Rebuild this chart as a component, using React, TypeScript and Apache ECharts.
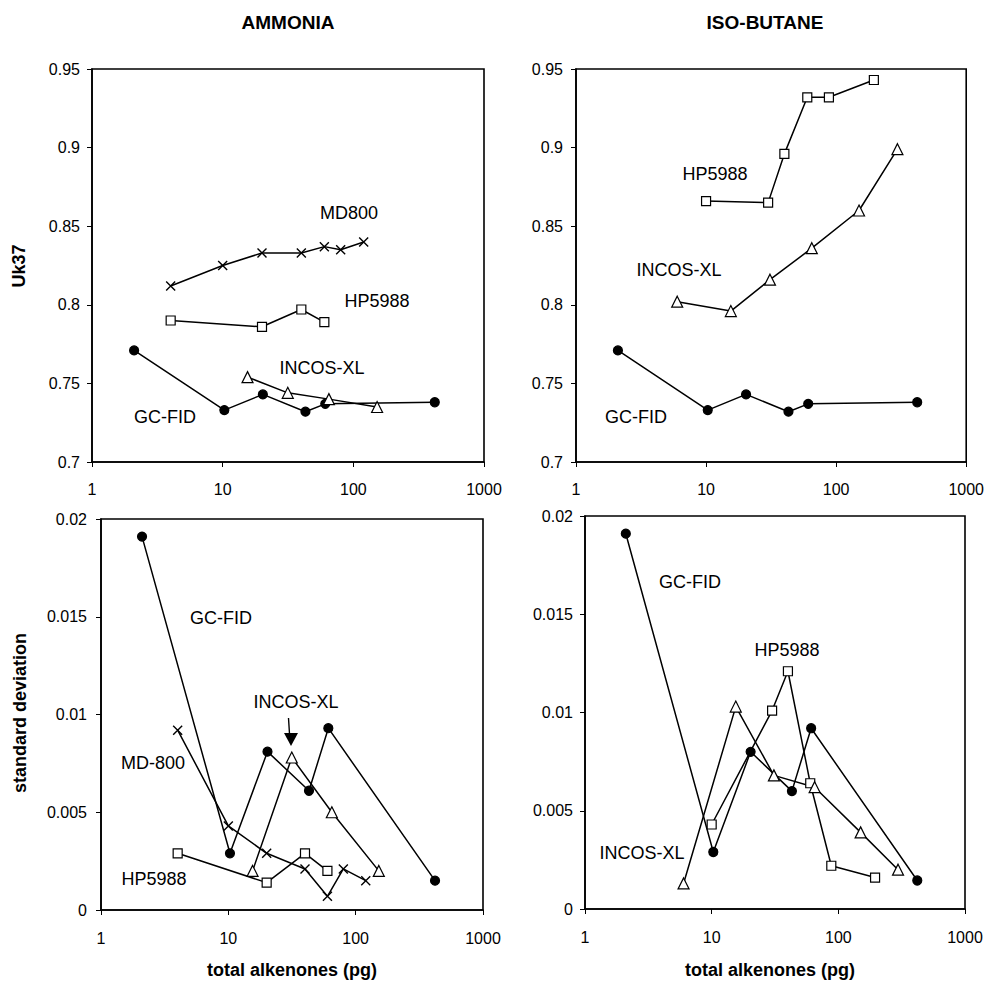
import React, { useEffect, useRef } from "react";
import * as echarts from "echarts";

// ---------- data ----------
const X_TICKS = [1, 10, 100, 1000];

// GC-FID (same instrument runs for both ionisation gases)
const GCFID_X = [2.1, 10.3, 20.3, 43, 61, 420];
const AMM_GCFID_UK = [0.771, 0.733, 0.743, 0.732, 0.737, 0.738];
const ISO_GCFID_UK = [0.771, 0.733, 0.743, 0.732, 0.737, 0.738];
const AMM_GCFID_SD = [0.0191, 0.0029, 0.0081, 0.0061, 0.0093, 0.0015];
const ISO_GCFID_SD = [0.0191, 0.0029, 0.008, 0.006, 0.0092, 0.00145];

// Ammonia
const AMM_MD_X = [4, 10, 20, 40, 60, 80, 120];
const AMM_MD_UK = [0.812, 0.825, 0.833, 0.833, 0.837, 0.835, 0.84];
const AMM_MD_SD = [0.0092, 0.0043, 0.0029, 0.0021, 0.0007, 0.0021, 0.0015];

const AMM_HP_X = [4, 20, 40, 60];
const AMM_HP_UK = [0.79, 0.786, 0.797, 0.789];
const AMM_HP_SD = [0.0029, 0.0014, 0.0029, 0.002];

const AMM_INCOS_X = [15.5, 31.5, 65, 152];
const AMM_INCOS_UK = [0.754, 0.744, 0.74, 0.735];
const AMM_INCOS_SD = [0.002, 0.0078, 0.005, 0.002];

// Iso-butane
const ISO_HP_X = [10, 30, 40, 60, 88, 195];
const ISO_HP_UK = [0.866, 0.865, 0.896, 0.932, 0.932, 0.943];
const ISO_HP_SD = [0.0043, 0.0101, 0.0121, 0.0064, 0.0022, 0.0016];

const ISO_INCOS_X = [6, 15.5, 31, 65, 150, 296];
const ISO_INCOS_UK = [0.802, 0.796, 0.816, 0.836, 0.86, 0.899];
const ISO_INCOS_SD = [0.0013, 0.0103, 0.0068, 0.0062, 0.0039, 0.002];

// ---------- styling ----------
const FONT = "'Liberation Sans', Arial, Helvetica, sans-serif";
const CROSS = "path://M0,0L10,10M10,0L0,10";

const pairs = (xs: number[], ys: number[]) => xs.map((x, i) => [x, ys[i]]);

type Kind = "dot" | "square" | "triangle" | "cross";

function mkSeries(name: string, grid: number, xs: number[], ys: number[], kind: Kind) {
  const symbol =
    kind === "dot" ? "circle" : kind === "square" ? "rect" : kind === "triangle" ? "triangle" : CROSS;
  const size = kind === "dot" ? 9 : kind === "square" ? 9 : kind === "triangle" ? 11 : 9;
  const fill = kind === "dot" ? "#000" : kind === "cross" ? "rgba(0,0,0,0)" : "#fff";
  return {
    name,
    type: "line",
    xAxisIndex: grid,
    yAxisIndex: grid,
    data: pairs(xs, ys),
    symbol,
    symbolSize: size,
    showAllSymbol: true,
    lineStyle: { color: "#000", width: 1.5 },
    itemStyle: { color: fill, borderColor: "#000", borderWidth: kind === "cross" ? 1.4 : 1.2 },
    emphasis: { disabled: true },
    z: 3,
  };
}

function txt(text: string, x: number, y: number, size: number, bold = false, rotation = 0) {
  return {
    type: "text",
    x,
    y,
    rotation,
    style: {
      text,
      x: 0,
      y: 0,
      fill: "#000",
      font: `${bold ? "bold " : ""}${size}px ${FONT}`,
      textAlign: "center",
      textVerticalAlign: "middle",
      align: "center",
      verticalAlign: "middle",
    },
    z: 10,
  };
}

export default function App() {
  const ref = useRef<HTMLDivElement>(null);

  useEffect(() => {
    if (!ref.current) return;
    const chart = echarts.init(ref.current, undefined, { renderer: "svg" });

    const grids = [
      { left: 92, top: 69, width: 392, height: 393 },
      { left: 576, top: 69, width: 391, height: 393 },
      { left: 101, top: 519, width: 382, height: 391 },
      { left: 585, top: 516, width: 380, height: 393 },
    ].map((g) => ({ ...g, show: true, borderColor: "#000", borderWidth: 1.6, backgroundColor: "#fff" }));

    const xAxes = [0, 1, 2, 3].map((i) => ({
      type: "log",
      logBase: 10,
      gridIndex: i,
      min: X_TICKS[0],
      max: X_TICKS[X_TICKS.length - 1],
      axisLine: { show: true, lineStyle: { color: "#000", width: 1.6 } },
      axisTick: { show: true, inside: false, length: 5, lineStyle: { color: "#000", width: 1 } },
      minorTick: { show: false },
      splitLine: { show: false },
      axisLabel: {
        color: "#000",
        fontSize: 16,
        fontFamily: FONT,
        margin: i < 2 ? 19 : 20,
        formatter: (v: number) => String(Math.round(v)),
      },
    }));

    const yAxes = [0, 1, 2, 3].map((i) => ({
      type: "value",
      gridIndex: i,
      min: i < 2 ? 0.7 : 0,
      max: i < 2 ? 0.95 : 0.02,
      interval: i < 2 ? 0.05 : 0.005,
      axisLine: { show: true, lineStyle: { color: "#000", width: 1.6 } },
      axisTick: { show: true, inside: false, length: 5, lineStyle: { color: "#000", width: 1 } },
      splitLine: { show: false },
      axisLabel: {
        color: "#000",
        fontSize: 16,
        fontFamily: FONT,
        margin: i === 0 ? 12 : i === 1 ? 13 : i === 2 ? 14 : 12,
      },
    }));

    const series = [
      // ammonia Uk37
      mkSeries("GC-FID", 0, GCFID_X, AMM_GCFID_UK, "dot"),
      mkSeries("MD800", 0, AMM_MD_X, AMM_MD_UK, "cross"),
      mkSeries("HP5988", 0, AMM_HP_X, AMM_HP_UK, "square"),
      mkSeries("INCOS-XL", 0, AMM_INCOS_X, AMM_INCOS_UK, "triangle"),
      // iso-butane Uk37
      mkSeries("GC-FID", 1, GCFID_X, ISO_GCFID_UK, "dot"),
      mkSeries("HP5988", 1, ISO_HP_X, ISO_HP_UK, "square"),
      mkSeries("INCOS-XL", 1, ISO_INCOS_X, ISO_INCOS_UK, "triangle"),
      // ammonia SD
      mkSeries("GC-FID", 2, GCFID_X, AMM_GCFID_SD, "dot"),
      mkSeries("MD-800", 2, AMM_MD_X, AMM_MD_SD, "cross"),
      mkSeries("HP5988", 2, AMM_HP_X, AMM_HP_SD, "square"),
      mkSeries("INCOS-XL", 2, AMM_INCOS_X, AMM_INCOS_SD, "triangle"),
      // iso-butane SD
      mkSeries("GC-FID", 3, GCFID_X, ISO_GCFID_SD, "dot"),
      mkSeries("HP5988", 3, ISO_HP_X, ISO_HP_SD, "square"),
      mkSeries("INCOS-XL", 3, ISO_INCOS_X, ISO_INCOS_SD, "triangle"),
    ];

    const graphic = [
      txt("AMMONIA", 288, 22, 19, true),
      txt("ISO-BUTANE", 765, 22, 19, true),
      txt("Uk37", 19, 266, 18, true, Math.PI / 2),
      txt("standard deviation", 20, 713, 18, true, Math.PI / 2),
      txt("total alkenones (pg)", 292, 970, 18, true),
      txt("total alkenones (pg)", 770, 970, 18, true),
      // panel annotations
      txt("MD800", 349, 213, 18),
      txt("HP5988", 377, 301, 18),
      txt("INCOS-XL", 322, 368, 18),
      txt("GC-FID", 165, 417, 18),
      txt("HP5988", 715, 174, 18),
      txt("INCOS-XL", 679, 270, 18),
      txt("GC-FID", 636, 417, 18),
      txt("GC-FID", 221, 618, 18),
      txt("INCOS-XL", 296, 702, 18),
      txt("MD-800", 153, 763, 18),
      txt("HP5988", 154, 879, 18),
      txt("GC-FID", 690, 582, 18),
      txt("HP5988", 787, 650, 18),
      txt("INCOS-XL", 642, 853, 18),
      // arrow pointing to INCOS-XL peak
      {
        type: "line",
        shape: { x1: 288.5, y1: 718, x2: 289.5, y2: 734 },
        style: { stroke: "#000", lineWidth: 1.4 },
        z: 10,
      },
      {
        type: "polygon",
        shape: { points: [[284, 733], [298, 733], [291, 746]] },
        style: { fill: "#000" },
        z: 10,
      },
    ];

    chart.setOption({
      animation: false,
      backgroundColor: "#fff",
      textStyle: { fontFamily: FONT },
      grid: grids,
      xAxis: xAxes,
      yAxis: yAxes,
      series,
      graphic,
    });

    return () => chart.dispose();
  }, []);

  return (
    <div
      ref={ref}
      style={{ position: "fixed", left: 0, top: 0, width: 987, height: 982, background: "#fff" }}
    />
  );
}
